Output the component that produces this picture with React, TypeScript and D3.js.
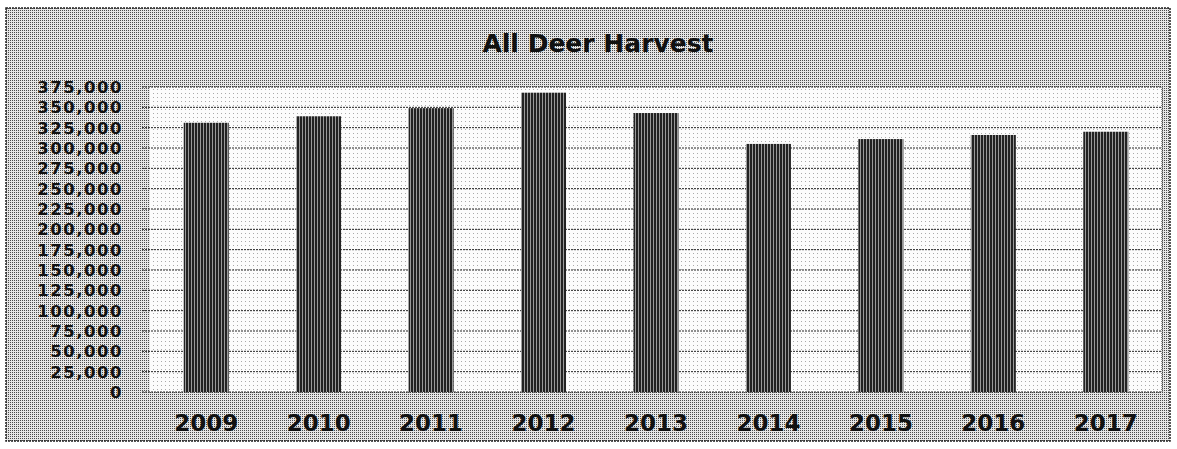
import React from "react";
import * as d3 from "d3";

const years = ["2009", "2010", "2011", "2012", "2013", "2014", "2015", "2016", "2017"];
const harvest = [331000, 339000, 349000, 368000, 343000, 305000, 311000, 316000, 320000];
const yTicks = d3.range(0, 375001, 25000);
const title = "All Deer Harvest";

const W = 1177;
const H = 449;
const plot = { left: 150, right: 1162, top: 87, bottom: 392 };

export default function App() {
  const x = d3
    .scaleBand<string>()
    .domain(years)
    .range([plot.left, plot.right])
    .paddingInner(0.6)
    .paddingOuter(0.3);
  const y = d3.scaleLinear().domain([0, 375000]).range([plot.bottom, plot.top]);
  const fmt = d3.format(",");
  const font = "'DejaVu Sans', Verdana, sans-serif";

  return (
    <svg
      width={W}
      height={H}
      style={{ position: "absolute", left: 0, top: 0, background: "#fff" }}
    >
      <defs>
        <pattern id="outerBg" width="2" height="2" patternUnits="userSpaceOnUse">
          <rect width="2" height="2" fill="#e6e6e6" />
          <rect width="1" height="1" fill="#4a4a4a" />
        </pattern>
        <pattern id="plotBg" width="4" height="4" patternUnits="userSpaceOnUse">
          <rect width="4" height="4" fill="#fcfcfc" />
          <rect x="1" y="1" width="1" height="1" fill="#aaa" />
        </pattern>
        <pattern id="barFill" width="3" height="3" patternUnits="userSpaceOnUse">
          <rect width="3" height="3" fill="#222" />
          <rect x="2" width="1" height="3" fill="#9a9a9a" />
        </pattern>
      </defs>
      <rect x={6} y={8} width={1164} height={433} fill="url(#outerBg)" stroke="#222" strokeWidth={1.5} strokeDasharray="2,1" />
      <rect
        x={plot.left}
        y={plot.top}
        width={plot.right - plot.left}
        height={plot.bottom - plot.top}
        fill="url(#plotBg)"
      />
      {yTicks.map((t) => (
        <line
          key={"g" + t}
          x1={plot.left - 8}
          x2={plot.right}
          y1={y(t)}
          y2={y(t)}
          stroke="#222"
          strokeWidth={1}
          strokeDasharray="2,1"
        />
      ))}
      <line x1={plot.right} x2={plot.right} y1={plot.top} y2={plot.bottom} stroke="#555" strokeDasharray="1,1" />
      {years.map((yr, i) => (
        <rect
          key={yr}
          x={x(yr)}
          y={y(harvest[i])}
          width={x.bandwidth()}
          height={y(0) - y(harvest[i])}
          fill="url(#barFill)"
        />
      ))}
      {yTicks.map((t) => (
        <text
          key={"l" + t}
          x={123}
          y={y(t)}
          dy="0.36em"
          textAnchor="end"
          fontFamily={font}
          fontWeight="bold"
          fontSize={16.5}
          letterSpacing={1.5}
          fill="#111"
        >
          {fmt(t)}
        </text>
      ))}
      {years.map((yr) => (
        <text
          key={"x" + yr}
          x={(x(yr) as number) + x.bandwidth() / 2}
          y={423}
          dy="0.36em"
          textAnchor="middle"
          fontFamily={font}
          fontWeight="bold"
          fontSize={23}
          fill="#111"
        >
          {yr}
        </text>
      ))}
      <text
        x={598}
        y={43}
        dy="0.36em"
        textAnchor="middle"
        fontFamily={font}
        fontWeight="bold"
        fontSize={25}
        fill="#111"
      >
        {title}
      </text>
    </svg>
  );
}
